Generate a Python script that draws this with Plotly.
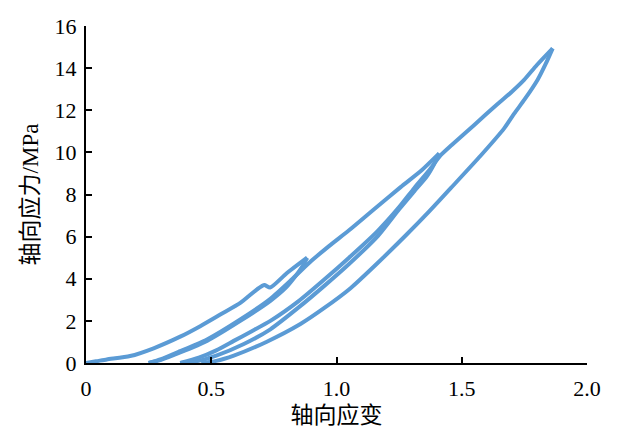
import plotly.graph_objects as go

# Axial strain / stress data for cyclic loading
load0_x = [0, 0.04, 0.083, 0.176, 0.27, 0.376, 0.456, 0.536, 0.616, 0.683, 0.712, 0.735, 0.80, 0.883]
load0_y = [0, 0.08, 0.17, 0.33, 0.70, 1.25, 1.75, 2.30, 2.85, 3.50, 3.70, 3.58, 4.25, 5.00]

unload1_x = [0.883, 0.862, 0.835, 0.80, 0.736, 0.616, 0.483, 0.376, 0.30, 0.25]
unload1_y = [5.00, 4.55, 4.10, 3.60, 2.95, 2.00, 1.05, 0.50, 0.15, 0.0]

reload1_x = [0.25, 0.30, 0.376, 0.483, 0.616, 0.736, 0.82, 0.90, 0.97, 1.05, 1.15, 1.256, 1.34, 1.41]
reload1_y = [0.0, 0.18, 0.56, 1.12, 2.07, 3.05, 3.95, 4.85, 5.55, 6.30, 7.30, 8.35, 9.15, 9.95]

unload2_x = [1.41, 1.39, 1.36, 1.31, 1.25, 1.163, 1.05, 0.95, 0.85, 0.736, 0.63, 0.52, 0.44, 0.376]
unload2_y = [9.95, 9.45, 8.85, 8.15, 7.30, 6.00, 4.70, 3.65, 2.65, 1.60, 0.90, 0.35, 0.08, 0.0]

reload2_x = [0.376, 0.45, 0.52, 0.59, 0.66, 0.736, 0.85, 0.95, 1.05, 1.163, 1.25, 1.31, 1.37, 1.415,
             1.46, 1.55, 1.643, 1.70, 1.749, 1.80, 1.863]
reload2_y = [0.0, 0.25, 0.60, 1.05, 1.50, 2.00, 2.95, 3.95, 5.00, 6.25, 7.40, 8.30, 9.15, 9.85,
             10.35, 11.30, 12.30, 12.88, 13.44, 14.15, 14.94]

unload3_x = [1.863, 1.835, 1.803, 1.75, 1.71, 1.67, 1.576, 1.456, 1.37, 1.28, 1.16, 1.056, 0.95,
             0.856, 0.72, 0.59, 0.52, 0.46]
unload3_y = [14.94, 14.20, 13.45, 12.50, 11.85, 11.15, 9.85, 8.30, 7.20, 6.10, 4.70, 3.55, 2.60,
             1.85, 1.00, 0.35, 0.10, 0.0]

x_ticks = [0, 0.5, 1.0, 1.5, 2.0]
x_ticktext = ["0", "0.5", "1.0", "1.5", "2.0"]
y_ticks = [0, 2, 4, 6, 8, 10, 12, 14, 16]

segments = [
    (load0_x, load0_y),
    (unload1_x, unload1_y),
    (reload1_x, reload1_y),
    (unload2_x, unload2_y),
    (reload2_x, reload2_y),
    (unload3_x, unload3_y),
]

fig = go.Figure()
for sx, sy in segments:
    fig.add_trace(go.Scatter(
        x=sx, y=sy, mode="lines",
        line=dict(color="#5B9BD5", width=4, shape="spline", smoothing=0.6),
        showlegend=False, hoverinfo="skip",
    ))

font_num = "Liberation Serif, Times New Roman, serif"
font_cjk = "Liberation Serif, Noto Sans CJK SC"

fig.update_layout(
    width=618, height=430,
    margin=dict(l=78, r=39, t=18, b=75),
    paper_bgcolor="white", plot_bgcolor="white",
    font=dict(family=font_cjk, size=20, color="black"),
    xaxis=dict(
        range=[0, 2.0], tickvals=x_ticks, ticktext=x_ticktext,
        showgrid=False, zeroline=False, automargin=False,
        showline=True, linecolor="black", linewidth=2,
        ticks="inside", ticklen=6, tickwidth=2, tickcolor="black",
        tickfont=dict(family=font_num, size=22, color="black"),
        ticklabelstandoff=5,
        title=dict(text="轴向应变", font=dict(family=font_cjk, size=23, color="black"), standoff=6),
    ),
    yaxis=dict(
        range=[0, 16], tickvals=y_ticks,
        showgrid=False, zeroline=False, automargin=False,
        showline=True, linecolor="black", linewidth=2,
        ticks="inside", ticklen=6, tickwidth=2, tickcolor="black",
        tickfont=dict(family=font_num, size=22, color="black"),
        ticklabelstandoff=3,
        title=dict(text="轴向应力/MPa", font=dict(family=font_cjk, size=23, color="black"), standoff=10),
    ),
)

fig.write_html("out.html")
